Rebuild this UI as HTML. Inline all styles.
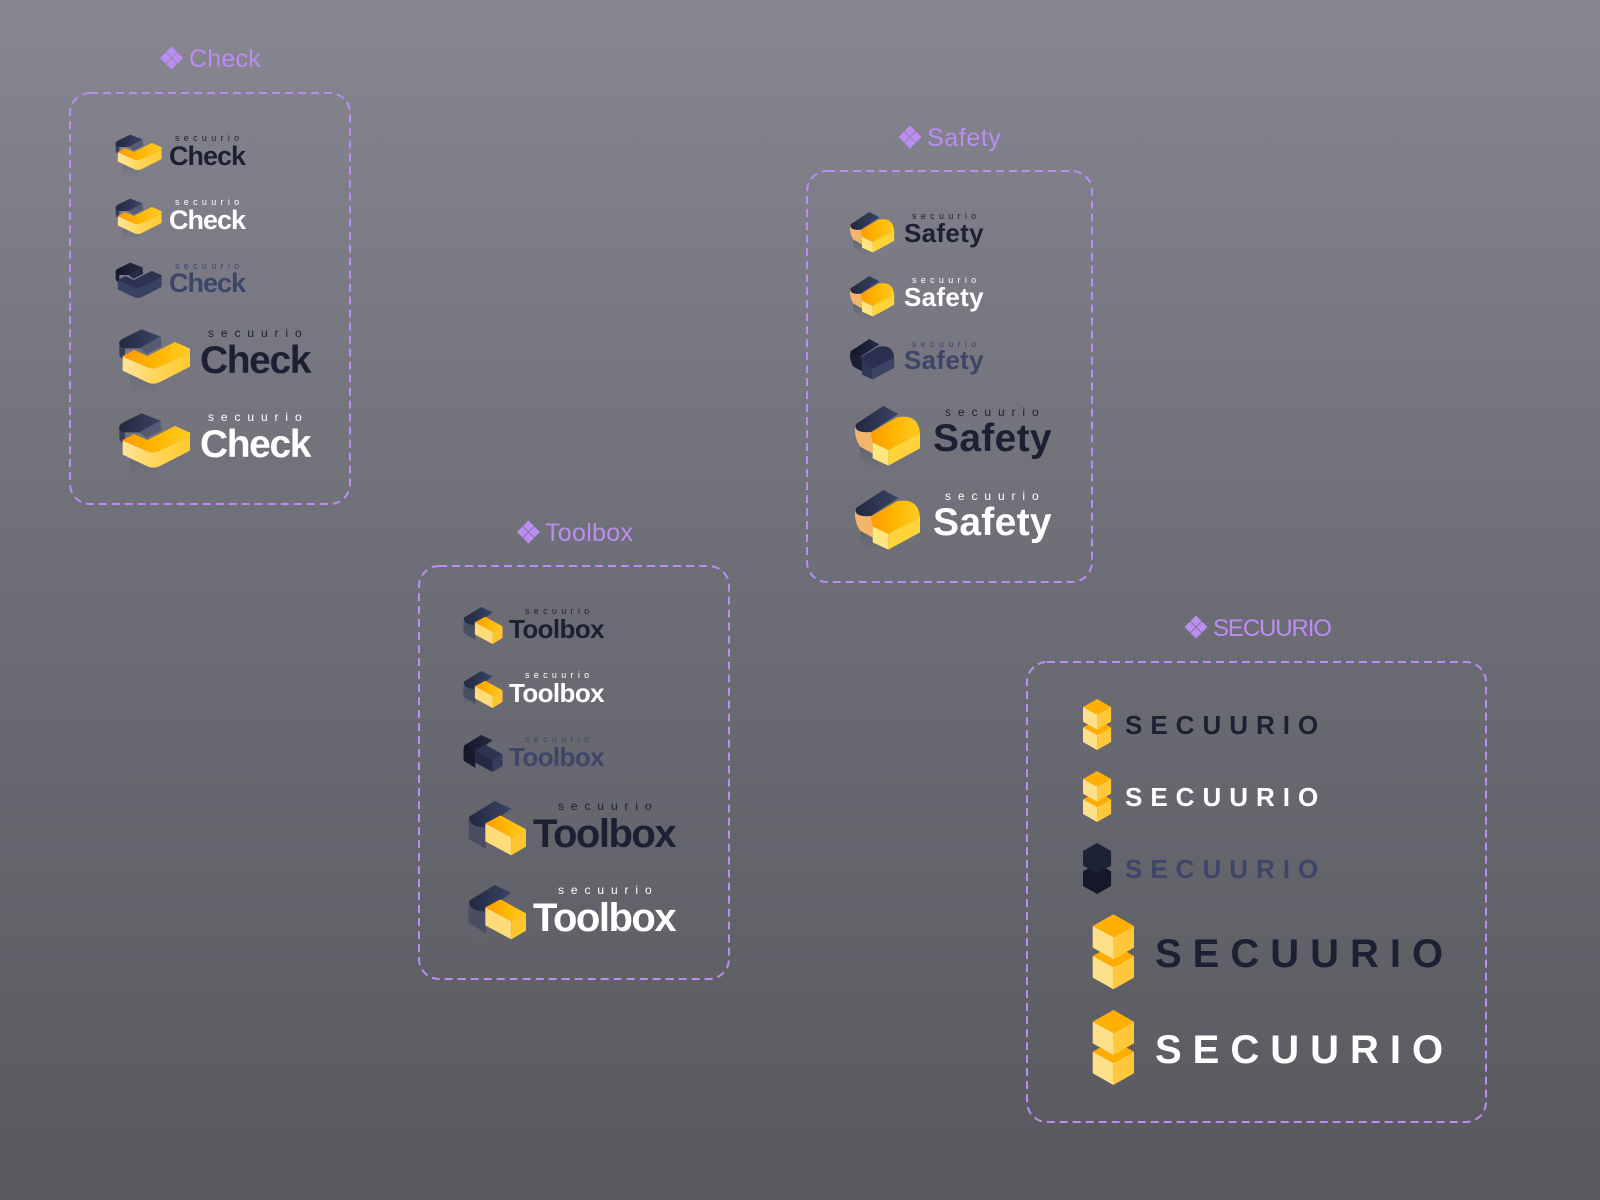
<!DOCTYPE html>
<html><head><meta charset="utf-8">
<style>
html,body{margin:0;padding:0;}
body{width:1600px;height:1200px;overflow:hidden;background:linear-gradient(#878691 0%,#6f6f78 45%,#58585e 100%);}
svg{display:block;position:absolute;left:0;top:0;}
.lbl{font-family:"Liberation Sans",Arial,sans-serif;font-size:25px;fill:#bb8df2;}
.sm{font-family:"Liberation Sans",Arial,sans-serif;font-size:9px;letter-spacing:4.3px;}
.smL{font-family:"Liberation Sans",Arial,sans-serif;font-size:12px;letter-spacing:6.9px;}
.w1{font-family:"Liberation Sans",Arial,sans-serif;font-weight:bold;}
.dk{fill:#1d2033;}
.wt{fill:#ffffff;}
.mu{fill:#3d4668;}
</style></head>
<body>
<svg width="1600" height="1200" viewBox="0 0 1600 1200" xmlns="http://www.w3.org/2000/svg">
<defs>
  <linearGradient id="gTop" x1="0" y1="0" x2="1" y2="0">
    <stop offset="0" stop-color="#ff9a00"/><stop offset="0.45" stop-color="#ffb400"/><stop offset="1" stop-color="#ffcc22"/>
  </linearGradient>
  <linearGradient id="gFront" x1="0" y1="0" x2="1" y2="0">
    <stop offset="0" stop-color="#ffe39a"/><stop offset="0.5" stop-color="#ffd659"/><stop offset="1" stop-color="#ffca2e"/>
  </linearGradient>
  <linearGradient id="gNavy" x1="0" y1="0" x2="1" y2="0">
    <stop offset="0" stop-color="#22283f"/><stop offset="1" stop-color="#3a4466"/>
  </linearGradient>
  <linearGradient id="gDark" x1="0" y1="0" x2="1" y2="0">
    <stop offset="0" stop-color="#121525"/><stop offset="1" stop-color="#262c44"/>
  </linearGradient>
  <linearGradient id="gShadow" x1="0" y1="0" x2="0" y2="1">
    <stop offset="0" stop-color="#5c5e6c" stop-opacity=".9"/><stop offset="1" stop-color="#6c6d78" stop-opacity="0"/>
  </linearGradient>

  <!-- Check icon, 270x240 space -->
  <g id="chk">
    <path d="M60,130 L140,168 L140,218 Q110,236 82,220 L60,206 Z" fill="url(#gShadow)"/>
    <path d="M28,68 L28,102 Q30,116 45,120 L45,85 Z" fill="#3a3f58"/>
    <path d="M152,50 L155,80 L110,102 L88,85 Z" fill="#555b72"/>
    <path d="M40,55 L95,28 L152,50 L88,85 L48,85 Q25,82 28,68 Q30,60 40,55 Z" fill="url(#gNavy)"/>
    <path d="M38,108 L72,90 L112,108 L195,66 L240,86 L240,96 L150,140 Q130,150 110,141 L38,110 Z" fill="url(#gTop)"/>
    <path d="M38,110 L110,141 Q130,150 150,140 L240,96 L240,140 L150,186 Q130,196 110,186 L38,152 Z" fill="url(#gFront)"/>
  </g>
  <g id="chkD">
    <path d="M28,68 L28,102 Q30,116 45,120 L45,85 Z" fill="#171a2b"/>
    <path d="M152,50 L155,80 L110,102 L88,85 Z" fill="#262b42"/>
    <path d="M40,55 L95,28 L152,50 L88,85 L48,85 Q25,82 28,68 Q30,60 40,55 Z" fill="url(#gDark)"/>
    <path d="M38,108 L72,90 L112,108 L195,66 L240,86 L240,96 L150,140 Q130,150 110,141 L38,110 Z" fill="#2c3352"/>
    <path d="M38,110 L110,141 Q130,150 150,140 L240,96 L240,140 L150,186 Q130,196 110,186 L38,152 Z" fill="#394262"/>
  </g>

  <!-- Toolbox icon, 216x192 space -->
  <g id="tbx">
    <path d="M22,120 L75,150 L75,185 Q40,180 22,160 Z" fill="url(#gShadow)"/>
    <path d="M20,70 L20,128 L72,160 L72,95 Z" fill="#4a4e62"/>
    <path d="M22,62 L98,15 L148,38 L72,95 Q18,92 22,62 Z" fill="url(#gNavy)"/>
    <path d="M70,82 L115,58 L192,100 L148,124 Z" fill="url(#gTop)"/>
    <path d="M70,82 L148,124 L148,178 L70,136 Z" fill="#ffdc7a"/>
    <path d="M148,124 L192,100 L192,152 L148,178 Z" fill="#ffc52e"/>
  </g>
  <g id="tbxD">
    <path d="M20,70 L20,128 L72,160 L72,95 Z" fill="#161a2b"/>
    <path d="M22,62 L98,15 L148,38 L72,95 Q18,92 22,62 Z" fill="url(#gDark)"/>
    <path d="M70,82 L115,58 L192,100 L148,124 Z" fill="#2d3452"/>
    <path d="M70,82 L148,124 L148,178 L70,136 Z" fill="#252b45"/>
    <path d="M148,124 L192,100 L192,152 L148,178 Z" fill="#353d5c"/>
  </g>

  <!-- Safety icon, 240x225 space -->
  <g id="sft">
    <path d="M30,140 L115,195 L115,220 Q60,215 30,175 Z" fill="url(#gShadow)"/>
    <path d="M15,80 Q12,112 30,140 L68,160 L68,100 L62,96 Q20,100 15,80 Z" fill="#f3b56a"/>
    <path d="M18,72 L100,18 L145,42 L62,96 Q10,100 18,72 Z" fill="url(#gNavy)"/>
    <path d="M62,98 L140,52 Q205,40 210,100 L115,150 L68,128 Z" fill="url(#gTop)"/>
    <path d="M68,128 L115,150 L115,197 L68,175 Z" fill="#ffe680"/>
    <path d="M115,150 L210,100 L210,145 L115,197 Z" fill="#ffd43a"/>
  </g>
  <g id="sftD">
    <path d="M15,80 Q12,112 30,140 L68,160 L68,100 L62,96 Q20,100 15,80 Z" fill="#1a1e31"/>
    <path d="M18,72 L100,18 L145,42 L62,96 Q10,100 18,72 Z" fill="url(#gDark)"/>
    <path d="M62,98 L140,52 Q205,40 210,100 L115,150 L68,128 Z" fill="#2a3150"/>
    <path d="M68,128 L115,150 L115,197 L68,175 Z" fill="#2f3756"/>
    <path d="M115,150 L210,100 L210,145 L115,197 Z" fill="#3a4364"/>
  </g>

  <!-- Cube stack -->
  <g id="cube">
    <path d="M20.7,30 L41.3,41.7 L20.7,53 L0,41.7 Z" fill="#ffad00"/>
    <path d="M0,41.7 L20.7,53 L20.7,75 L0,63.3 Z" fill="#ffe08a"/>
    <path d="M20.7,53 L41.3,41.7 L41.3,63.3 L20.7,75 Z" fill="#ffc83a"/>
    <path d="M20.7,0 L41.3,11.7 L20.7,23 L0,11.7 Z" fill="#ffb000"/>
    <path d="M0,11.7 L20.7,23 L20.7,45 L0,33.3 Z" fill="#ffe08a"/>
    <path d="M20.7,23 L41.3,11.7 L41.3,33.3 L20.7,45 Z" fill="#ffc83a"/>
  </g>
  <g id="cubeD">
    <path d="M20.7,30 L41.3,41.7 L41.3,63.3 L20.7,75 L0,63.3 L0,41.7 Z" fill="#141828"/>
    <path d="M20.7,0 L41.3,11.7 L41.3,33.3 L20.7,45 L0,33.3 L0,11.7 Z" fill="#1e2236"/>
  </g>

  <!-- component diamond icon centred on 0,0 -->
  <g id="dia" fill="#bb8df2">
    <path d="M0,-11.5 L5.5,-6 L0,-0.5 L-5.5,-6 Z"/>
    <path d="M-6,-5.5 L-0.5,0 L-6,5.5 L-11.5,0 Z"/>
    <path d="M6,-5.5 L11.5,0 L6,5.5 L0.5,0 Z"/>
    <path d="M0,0.5 L5.5,6 L0,11.5 L-5.5,6 Z"/>
  </g>
</defs>

<!-- ===== Boxes ===== -->
<g fill="none" stroke="#bb8df2" stroke-width="2" stroke-dasharray="8 5">
  <rect x="70" y="93" width="280" height="411" rx="20"/>
  <rect x="419" y="566" width="310" height="413" rx="20"/>
  <rect x="807" y="171" width="285" height="411" rx="20"/>
  <rect x="1027" y="662" width="459" height="460" rx="20"/>
</g>

<!-- ===== Labels ===== -->
<use href="#dia" x="171.5" y="58"/>
<text class="lbl" x="189" y="67" letter-spacing="0.2">Check</text>
<use href="#dia" x="910" y="137"/>
<text class="lbl" x="927" y="146" letter-spacing="0.6">Safety</text>
<use href="#dia" x="528.5" y="532"/>
<text class="lbl" x="545" y="541" letter-spacing="0.3">Toolbox</text>
<use href="#dia" x="1196" y="627"/>
<text class="lbl" x="1213" y="636" letter-spacing="-1.1" style="font-size:24px">SECUURIO</text>

<!-- ===== Check ===== -->
<g transform="translate(109.6,128.6) scale(0.2167)"><use href="#chk"/></g>
<text class="sm dk" x="175" y="141">secuurio</text>
<text class="w1 dk" x="169" y="165" font-size="27" letter-spacing="-1">Check</text>

<g transform="translate(109.6,192.6) scale(0.2167)"><use href="#chk"/></g>
<text class="sm wt" x="175" y="205">secuurio</text>
<text class="w1 wt" x="169" y="229" font-size="27" letter-spacing="-1">Check</text>

<g transform="translate(109.6,256.6) scale(0.2167)"><use href="#chkD"/></g>
<text class="sm mu" x="175" y="269">secuurio</text>
<text class="w1 mu" x="169" y="292" font-size="27" letter-spacing="-1">Check</text>

<g transform="translate(110,320) scale(0.3333)"><use href="#chk"/></g>
<text class="smL dk" x="208" y="337">secuurio</text>
<text class="w1 dk" x="200" y="373" font-size="39" letter-spacing="-1.4">Check</text>

<g transform="translate(110,404) scale(0.3333)"><use href="#chk"/></g>
<text class="smL wt" x="208" y="421">secuurio</text>
<text class="w1 wt" x="200" y="457" font-size="39" letter-spacing="-1.4">Check</text>

<!-- ===== Toolbox ===== -->
<g transform="translate(459,603.6) scale(0.2267)"><use href="#tbx"/></g>
<text class="sm dk" x="525" y="614">secuurio</text>
<text class="w1 dk" x="509" y="638" font-size="26" letter-spacing="-0.6">Toolbox</text>

<g transform="translate(459,667.6) scale(0.2267)"><use href="#tbx"/></g>
<text class="sm wt" x="525" y="678">secuurio</text>
<text class="w1 wt" x="509" y="702" font-size="26" letter-spacing="-0.6">Toolbox</text>

<g transform="translate(459,731.6) scale(0.2267)"><use href="#tbxD"/></g>
<text class="sm mu" x="525" y="742">secuurio</text>
<text class="w1 mu" x="509" y="766" font-size="26" letter-spacing="-0.6">Toolbox</text>

<g transform="translate(462,796) scale(0.3333)"><use href="#tbx"/></g>
<text class="smL dk" x="558" y="810">secuurio</text>
<text class="w1 dk" x="533" y="847" font-size="40" letter-spacing="-1.5">Toolbox</text>

<g transform="translate(462,880) scale(0.3333)"><use href="#tbx"/></g>
<text class="smL wt" x="558" y="894">secuurio</text>
<text class="w1 wt" x="533" y="931" font-size="40" letter-spacing="-1.5">Toolbox</text>

<!-- ===== Safety ===== -->
<g transform="translate(846.6,207.9) scale(0.2267)"><use href="#sft"/></g>
<text class="sm dk" x="912" y="219">secuurio</text>
<text class="w1 dk" x="904" y="242" font-size="26" letter-spacing="0.3">Safety</text>

<g transform="translate(846.6,271.9) scale(0.2267)"><use href="#sft"/></g>
<text class="sm wt" x="912" y="283">secuurio</text>
<text class="w1 wt" x="904" y="306" font-size="26" letter-spacing="0.3">Safety</text>

<g transform="translate(846.6,334.9) scale(0.2267)"><use href="#sftD"/></g>
<text class="sm mu" x="912" y="347">secuurio</text>
<text class="w1 mu" x="904" y="369" font-size="26" letter-spacing="0.3">Safety</text>

<g transform="translate(850,400) scale(0.3333)"><use href="#sft"/></g>
<text class="smL dk" x="945" y="416">secuurio</text>
<text class="w1 dk" x="933" y="451" font-size="39" letter-spacing="0.3">Safety</text>

<g transform="translate(850,484) scale(0.3333)"><use href="#sft"/></g>
<text class="smL wt" x="945" y="500">secuurio</text>
<text class="w1 wt" x="933" y="535" font-size="39" letter-spacing="0.3">Safety</text>

<!-- ===== SECUURIO ===== -->
<g transform="translate(1083,699) scale(0.68)"><use href="#cube"/></g>
<text class="w1 dk" x="1125" y="734" font-size="26" letter-spacing="8">SECUURIO</text>

<g transform="translate(1083,771) scale(0.68)"><use href="#cube"/></g>
<text class="w1 wt" x="1125" y="806" font-size="26" letter-spacing="8">SECUURIO</text>

<g transform="translate(1083,843) scale(0.68)"><use href="#cubeD"/></g>
<text class="w1 mu" x="1125" y="878" font-size="26" letter-spacing="8">SECUURIO</text>

<g transform="translate(1092.7,914.3)"><use href="#cube"/></g>
<text class="w1 dk" x="1155" y="967" font-size="40" letter-spacing="11">SECUURIO</text>

<g transform="translate(1092.7,1010)"><use href="#cube"/></g>
<text class="w1 wt" x="1155" y="1063" font-size="40" letter-spacing="11">SECUURIO</text>
</svg>
</body></html>
